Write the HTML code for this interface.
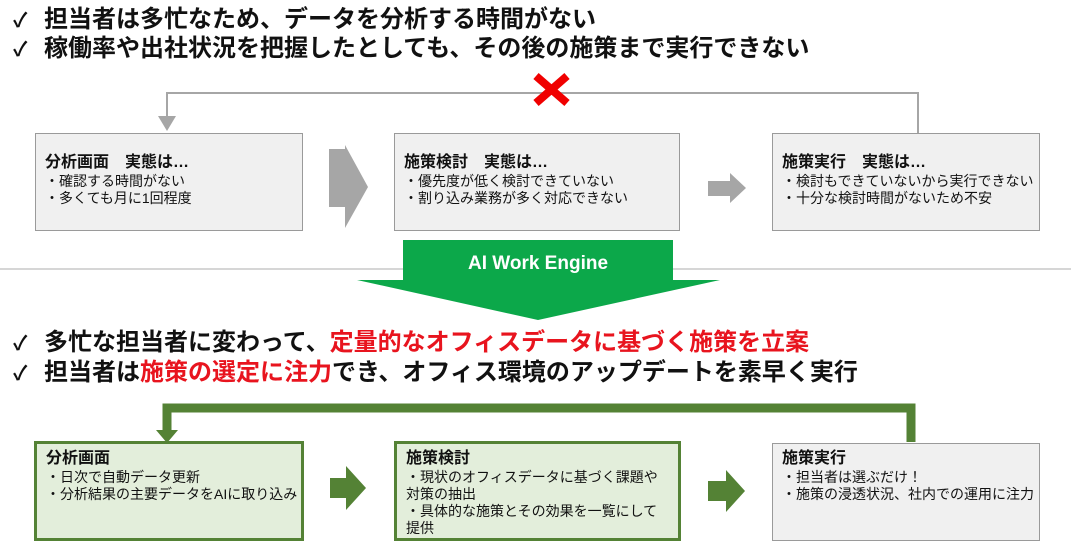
<!DOCTYPE html>
<html><head><meta charset="utf-8"><style>
body{margin:0;width:1071px;height:549px;background:#fff;position:relative;overflow:hidden;font-family:"Liberation Sans","Noto Sans CJK JP",sans-serif;color:#111}
.h{position:absolute;left:13px;font-size:24px;font-weight:bold;line-height:28px;white-space:nowrap;letter-spacing:0}
.h .c{display:inline-block;width:31px;font-size:20px}
.r{color:#e8141e}
.box{position:absolute;box-sizing:border-box;padding:19px 0 0 9px;font-size:14px;line-height:17px;white-space:nowrap}
.g{background:#f0f0f0;border:1.5px solid #9a9a9a}
.gr{background:#e3eedb;border:3px solid #548235;padding-top:5px}
.box b{font-size:16px;display:block;line-height:20px;margin-bottom:0}
</style></head><body>
<div class="h" style="top:6px"><span class="c">✓</span>担当者は多忙なため、データを分析する時間がない</div>
<div class="h" style="top:35px"><span class="c">✓</span>稼働率や出社状況を把握したとしても、その後の施策まで実行できない</div>
<div class="h" style="top:329px"><span class="c">✓</span>多忙な担当者に変わって、<span class="r">定量的なオフィスデータに基づく施策を立案</span></div>
<div class="h" style="top:359px"><span class="c">✓</span>担当者は<span class="r">施策の選定に注力</span>でき、オフィス環境のアップデートを素早く実行</div>

<svg width="1071" height="549" style="position:absolute;left:0;top:0">
<line x1="0" y1="269" x2="1071" y2="269" stroke="#bdbdbd" stroke-width="1.2"/>
<polyline points="167,117 167,93 918,93 918,133" fill="none" stroke="#a6a6a6" stroke-width="2"/>
<polygon points="158,116 176,116 167,131" fill="#a6a6a6"/>
<g stroke="#f00000" stroke-width="8"><line x1="536" y1="76" x2="567" y2="103"/><line x1="567" y1="76" x2="536" y2="103"/></g>
<polygon points="329,149 345,149 345,145 368,187 345,228 345,207 329,207" fill="#a6a6a6"/>
<polygon points="708,181 730,181 730,173 746,188 730,203 730,196 708,196" fill="#a6a6a6"/>
<polygon points="403,240 673,240 673,280 720,280 538,320 357,280 403,280" fill="#0ca84a"/>
<text x="538" y="269" text-anchor="middle" fill="#fff" font-size="19" font-weight="bold" font-family="Liberation Sans, sans-serif">AI Work Engine</text>
<polyline points="167,432 167,408 911,408 911,442" fill="none" stroke="#548235" stroke-width="9"/>
<polygon points="156,430 178,430 167,443" fill="#548235"/>
<polygon points="330,478 346,478 346,466 366,488 346,510 346,498 330,498" fill="#548235"/>
<polygon points="708,481 726,481 726,470 745,491 726,512 726,501 708,501" fill="#548235"/>
</svg>

<div class="box g" style="left:35px;top:133px;width:268px;height:98px"><b>分析画面　実態は…</b>・確認する時間がない<br>・多くても月に1回程度</div>
<div class="box g" style="left:394px;top:133px;width:286px;height:98px"><b>施策検討　実態は…</b>・優先度が低く検討できていない<br>・割り込み業務が多く対応できない</div>
<div class="box g" style="left:772px;top:133px;width:268px;height:98px"><b>施策実行　実態は…</b>・検討もできていないから実行できない<br>・十分な検討時間がないため不安</div>

<div class="box gr" style="left:34px;top:441px;width:270px;height:100px"><b>分析画面</b>・日次で自動データ更新<br>・分析結果の主要データをAIに取り込み</div>
<div class="box gr" style="left:394px;top:441px;width:287px;height:100px"><b>施策検討</b>・現状のオフィスデータに基づく課題や<br>対策の抽出<br>・具体的な施策とその効果を一覧にして<br>提供</div>
<div class="box g" style="left:772px;top:443px;width:268px;height:98px;padding-top:5px"><b>施策実行</b>・担当者は選ぶだけ！<br>・施策の浸透状況、社内での運用に注力</div>
</body></html>
